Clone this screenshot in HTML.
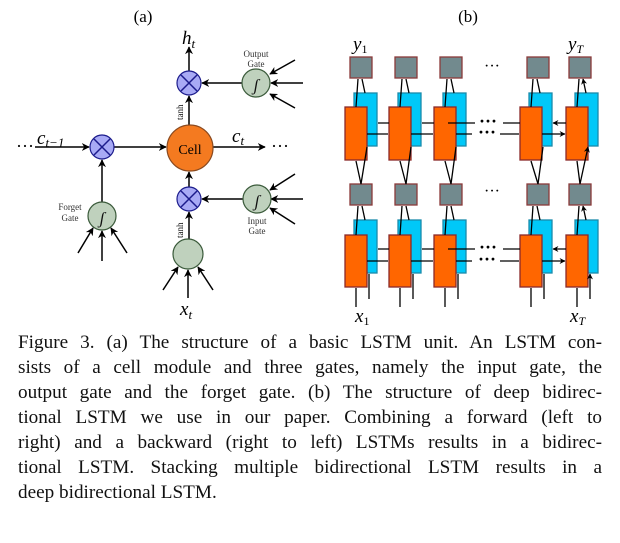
<!DOCTYPE html>
<html><head><meta charset="utf-8"><style>
html,body{margin:0;padding:0;background:#fff;width:620px;height:543px;overflow:hidden}
.cap{position:absolute;left:18px;top:330px;width:584px;font-family:"Liberation Serif",serif;font-size:19.2px;line-height:25px;color:#111}
.cap div{text-align:justify;text-align-last:justify;white-space:nowrap;height:25px}
.cap div.l{text-align-last:left}
</style></head><body>
<svg width="620" height="330" style="position:absolute;left:0;top:0" font-family="Liberation Serif,serif">
<defs>
<marker id="a" viewBox="0 0 10 10" refX="9" refY="5" markerWidth="8" markerHeight="8" orient="auto-start-reverse" markerUnits="userSpaceOnUse"><path d="M0,0L10,5L0,10L3,5z" fill="#000"/></marker>
<marker id="s" viewBox="0 0 10 10" refX="9" refY="5" markerWidth="6" markerHeight="6" orient="auto" markerUnits="userSpaceOnUse"><path d="M0,0L10,5L0,10L3,5z" fill="#000"/></marker>
</defs>
<text x="143" y="22" font-size="17" text-anchor="middle">(a)</text>
<text x="468" y="22" font-size="17" text-anchor="middle">(b)</text>
<g stroke="#000" stroke-width="1.5" fill="none" marker-end="url(#a)">
<line x1="35" y1="147" x2="89" y2="147"/>
<line x1="114" y1="147" x2="166" y2="147"/>
<line x1="213" y1="147" x2="265" y2="147"/>
<line x1="189" y1="71" x2="189" y2="47"/>
<line x1="189" y1="125" x2="189" y2="96"/>
<line x1="189" y1="187" x2="189" y2="172"/>
<line x1="189" y1="239" x2="189" y2="212"/>
<line x1="102" y1="202" x2="102" y2="160"/>
<line x1="242" y1="83" x2="202" y2="83"/>
<line x1="243" y1="199" x2="202" y2="199"/>
<line x1="295" y1="60" x2="270" y2="74"/><line x1="303" y1="83" x2="271" y2="83"/><line x1="295" y1="108" x2="270" y2="94"/>
<line x1="295" y1="174" x2="270" y2="190"/><line x1="303" y1="199" x2="271" y2="199"/><line x1="295" y1="224" x2="270" y2="208"/>
<line x1="78" y1="253" x2="93" y2="228"/><line x1="102" y1="261" x2="102" y2="231"/><line x1="127" y1="253" x2="111" y2="228"/>
<line x1="163" y1="290" x2="178" y2="267"/><line x1="188" y1="298" x2="188" y2="270"/><line x1="213" y1="290" x2="198" y2="267"/>
</g>
<text x="16" y="152" font-size="18">···</text><text x="271" y="152" font-size="18">···</text>
<g stroke-width="1.2">
<circle cx="190" cy="148" r="23" fill="#f47a20" stroke="#8a4a20"/>
<g fill="#a8aaf5" stroke="#1c1c8c"><circle cx="102" cy="147" r="12"/><circle cx="189" cy="83" r="12"/><circle cx="189" cy="199" r="12"/></g>
<g stroke="#1c1c8c" stroke-width="1.5"><path d="M94,139L110,155M110,139L94,155"/><path d="M181,75L197,91M197,75L181,91"/><path d="M181,191L197,207M197,191L181,207"/></g>
<g fill="#bfd1bd" stroke="#3a5a3a"><circle cx="256" cy="83" r="14"/><circle cx="257" cy="199" r="14"/><circle cx="102" cy="216" r="14"/><circle cx="188" cy="254" r="15"/></g>
</g>
<g font-size="17" font-style="italic" text-anchor="middle" fill="#111" stroke="none">
<text x="256" y="91">ʃ</text><text x="257" y="207">ʃ</text><text x="102" y="224">ʃ</text>
</g>
<text x="190" y="154" font-size="14" text-anchor="middle">Cell</text>
<g font-size="9" text-anchor="middle" fill="#333"><text x="256" y="57">Output</text><text x="256" y="67">Gate</text>
<text x="257" y="224">Input</text><text x="257" y="234">Gate</text><text x="70" y="210">Forget</text><text x="70" y="221">Gate</text></g>
<text font-size="9" transform="translate(183,120) rotate(-90)">tanh</text>
<text font-size="9" transform="translate(183,238) rotate(-90)">tanh</text>
<g font-style="italic" font-size="19">
<text x="182" y="44">h<tspan font-size="13" dy="4">t</tspan></text>
<text x="37" y="144">c<tspan font-size="13" dy="3">t−1</tspan></text>
<text x="232" y="142">c<tspan font-size="13" dy="3">t</tspan></text>
<text x="180" y="315">x<tspan font-size="13" dy="4">t</tspan></text>
<text x="353" y="50">y<tspan font-size="12" dy="3" font-style="normal">1</tspan></text>
<text x="568" y="50">y<tspan font-size="12" dy="3">T</tspan></text>
<text x="355" y="322">x<tspan font-size="12" dy="3" font-style="normal">1</tspan></text>
<text x="570" y="322">x<tspan font-size="12" dy="3">T</tspan></text>
</g>
<g stroke-width="1.3">
<g fill="#00c8f8" stroke="#1a8aaa">
<rect x="354" y="93" width="23" height="53"/><rect x="398" y="93" width="23" height="53"/><rect x="443" y="93" width="23" height="53"/><rect x="529" y="93" width="23" height="53"/><rect x="575" y="93" width="23" height="53"/>
<rect x="354" y="220" width="23" height="53"/><rect x="398" y="220" width="23" height="53"/><rect x="443" y="220" width="23" height="53"/><rect x="529" y="220" width="23" height="53"/><rect x="575" y="220" width="23" height="53"/>
</g>
<g fill="#ff6600" stroke="#8a2a2a">
<rect x="345" y="107" width="22" height="53"/><rect x="389" y="107" width="22" height="53"/><rect x="434" y="107" width="22" height="53"/><rect x="520" y="107" width="22" height="53"/><rect x="566" y="107" width="22" height="53"/>
<rect x="345" y="235" width="22" height="52"/><rect x="389" y="235" width="22" height="52"/><rect x="434" y="235" width="22" height="52"/><rect x="520" y="235" width="22" height="52"/><rect x="566" y="235" width="22" height="52"/>
</g>
<g fill="#728a8e" stroke="#8a3a3a">
<rect x="350" y="57" width="22" height="21"/><rect x="395" y="57" width="22" height="21"/><rect x="440" y="57" width="22" height="21"/><rect x="527" y="57" width="22" height="21"/><rect x="569" y="57" width="22" height="21"/>
<rect x="350" y="184" width="22" height="21"/><rect x="395" y="184" width="22" height="21"/><rect x="440" y="184" width="22" height="21"/><rect x="527" y="184" width="22" height="21"/><rect x="569" y="184" width="22" height="21"/>
</g>
</g>
<g stroke="#000" stroke-width="1.3" marker-end="url(#s)">
<path d="M389,123H378M434,123H422M520,123H503M475,123H448M566,123H553"/>
<path d="M367,134H388M411,134H433M456,134H472M500,134H519M542,134H565"/>
<path d="M389,249H378M434,249H422M520,249H503M475,249H448M566,249H553"/>
<path d="M367,261H388M411,261H433M456,261H472M500,261H519M542,261H565"/>
</g>
<g font-size="18" font-weight="bold" text-anchor="middle"><text x="488" y="127">···</text><text x="487" y="138">···</text><text x="488" y="253">···</text><text x="487" y="265">···</text></g>
<g font-size="16" text-anchor="middle"><text x="492" y="71">···</text><text x="492" y="196">···</text></g>
<g stroke="#000" stroke-width="1.3" marker-end="url(#s)">
<path d="M356,107L358,79M365,93L362,79M400,107L402,79M409,93L406,79M445,107L447,79M454,93L451,79M531,107L533,79M540,93L537,79M577,107L579,79M586,93L583,79"/>
<path d="M361,184L356,161M361,184L367,147M406,184L400,161M406,184L411,147M451,184L445,161M451,184L456,147M538,184L531,161M538,184L543,147M580,184L577,161M580,184L588,147"/>
<path d="M356,235L358,206M365,220L362,206M400,235L402,206M409,220L406,206M445,235L447,206M454,220L451,206M531,235L533,206M540,220L537,206M577,235L579,206M586,220L583,206"/>
<path d="M356,307V288M369,299V274M400,307V288M413,299V274M445,307V288M458,299V274M531,307V288M544,299V274M577,307V288M590,299V274"/>
</g>
</svg>
<div class="cap">
<div>Figure 3. (a) The structure of a basic LSTM unit. An LSTM con-</div>
<div>sists of a cell module and three gates, namely the input gate, the</div>
<div>output gate and the forget gate. (b) The structure of deep bidirec-</div>
<div>tional LSTM we use in our paper. Combining a forward (left to</div>
<div>right) and a backward (right to left) LSTMs results in a bidirec-</div>
<div>tional LSTM. Stacking multiple bidirectional LSTM results in a</div>
<div class="l">deep bidirectional LSTM.</div>
</div>
</body></html>
